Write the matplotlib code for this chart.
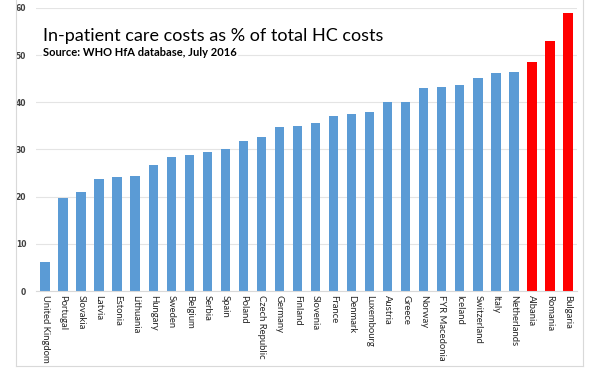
import matplotlib.pyplot as plt
from matplotlib.lines import Line2D

countries = ["United Kingdom", "Portugal", "Slovakia", "Latvia", "Estonia", "Lithuania",
             "Hungary", "Sweden", "Belgium", "Serbia", "Spain", "Poland", "Czech Republic",
             "Germany", "Finland", "Slovenia", "France", "Denmark", "Luxembourg", "Austria",
             "Greece", "Norway", "FYR Macedonia", "Iceland", "Switzerland", "Italy",
             "Netherlands", "Albania", "Romania", "Bulgaria"]
values = [6.1, 19.7, 20.9, 23.7, 24.1, 24.4, 26.8, 28.3, 28.8, 29.5, 30.1, 31.9, 32.6,
          34.7, 35.0, 35.7, 37.0, 37.5, 37.9, 40.1, 40.1, 43.1, 43.2, 43.7, 45.1, 46.3,
          46.4, 48.5, 52.9, 58.9]
highlight = ["Albania", "Romania", "Bulgaria"]
yticks = [0, 10, 20, 30, 40, 50, 60]

colors = ["#FF0000" if c in highlight else "#5B9BD5" for c in countries]

fig = plt.figure(figsize=(6, 3.7), dpi=100)
ax = fig.add_axes([0.06, 0.2135, 0.9017, 0.765])

x = range(len(countries))
ax.bar(x, values, width=0.52, color=colors, zorder=2)

ax.set_xlim(-0.5, len(countries) - 0.5)
ax.set_ylim(0, 60)
ax.set_yticks(yticks)
ax.set_yticklabels([str(t) for t in yticks], fontsize=5.5, color="#404040", fontweight="bold")
ax.set_xticks(list(x))
ax.set_xticklabels(countries, rotation=270, fontsize=6.8, color="#262626", family="Lato")
ax.tick_params(axis="both", length=0)
ax.tick_params(axis="y", pad=7)
ax.tick_params(axis="x", pad=3)
ax.grid(axis="y", color="#E4E4E4", linewidth=0.8, zorder=0)
for s in ["top", "right", "left"]:
    ax.spines[s].set_visible(False)
ax.spines["bottom"].set_color("#D9D9D9")
ax.spines["bottom"].set_linewidth(0.8)

# title box inside the plot area
fig.text(43 / 600, 1 - 36 / 370, "In-patient care costs as % of total HC costs",
         fontsize=13, family="Lato", color="black", va="center", ha="left",
         bbox=dict(facecolor="white", edgecolor="none", pad=1))
fig.text(43 / 600, 1 - 53 / 370, "Source: WHO HfA database, July 2016",
         fontsize=8, family="Lato", fontweight="bold", color="black", va="center", ha="left",
         bbox=dict(facecolor="white", edgecolor="none", pad=1))

# light chart frame
frame = "#D9D9D9"
fig.add_artist(Line2D([16 / 600, 16 / 600], [1 - 366 / 370, 1], color=frame, lw=0.8))
fig.add_artist(Line2D([583 / 600, 583 / 600], [1 - 366 / 370, 1], color=frame, lw=0.8))
fig.add_artist(Line2D([16 / 600, 583 / 600], [1 - 366 / 370, 1 - 366 / 370], color=frame, lw=0.8))

plt.savefig("out.png", dpi=100)
